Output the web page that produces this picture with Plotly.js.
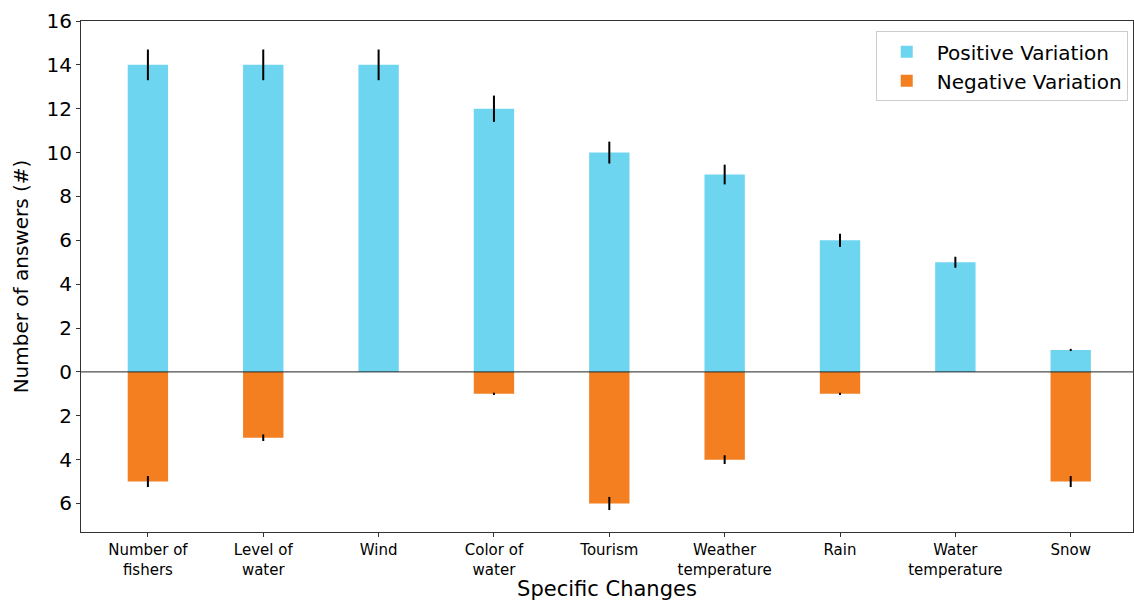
<!DOCTYPE html>
<html>
<head>
<meta charset="utf-8">
<script src="https://cdn.plot.ly/plotly-3.0.1.min.js"></script>
<style>html,body{margin:0;padding:0;background:#fff;}#chart{width:1134px;height:601px;}</style>
</head>
<body>
<div id="chart"></div>
<script>
const categories = ["Number of<br>fishers", "Level of<br>water", "Wind", "Color of<br>water", "Tourism", "Weather<br>temperature", "Rain", "Water<br>temperature", "Snow"];
const positiveValues = [14, 14, 14, 12, 10, 9, 6, 5, 1];
const positiveErrors = [0.7, 0.7, 0.7, 0.6, 0.5, 0.45, 0.3, 0.25, 0.05];
const negativeValues = [5, 3, 0, 1, 6, 4, 1, 0, 5];
const negativeErrors = [0.25, 0.15, 0, 0.05, 0.3, 0.2, 0.05, 0, 0.25];
const yTickValues = [-6, -4, -2, 0, 2, 4, 6, 8, 10, 12, 14, 16];
const yTickLabels = ["6", "4", "2", "0", "2", "4", "6", "8", "10", "12", "14", "16"];

const xIdx = categories.map((_, i) => i);

const traces = [
  {
    type: "bar", name: "Positive Variation", x: xIdx, y: positiveValues, width: 0.35,
    marker: {color: "#6dd5f0", line: {width: 0}},
    error_y: {type: "data", array: positiveErrors, visible: true, color: "#000", thickness: 2, width: 0}
  },
  {
    type: "bar", name: "Negative Variation", x: xIdx, y: negativeValues.map(v => -v), width: 0.35,
    marker: {color: "#f37f21", line: {width: 0}},
    error_y: {type: "data", array: negativeErrors, visible: true, color: "#000", thickness: 2, width: 0}
  }
];

const layout = {
  width: 1134, height: 601,
  margin: {l: 81, r: 1, t: 21, b: 69},
  paper_bgcolor: "#fff", plot_bgcolor: "#fff",
  font: {family: "DejaVu Sans, sans-serif", color: "#000"},
  barmode: "relative",
  showlegend: true,
  legend: {
    x: 0.995, xanchor: "right", y: 0.98, yanchor: "top",
    bordercolor: "#cccccc", borderwidth: 1, bgcolor: "rgba(255,255,255,0.8)",
    font: {size: 20, family: "DejaVu Sans, sans-serif"}, itemwidth: 50,
    tracegroupgap: 0
  },
  xaxis: {
    range: [-0.58, 8.54],
    tickmode: "array", tickvals: xIdx, ticktext: categories,
    tickfont: {size: 15}, ticks: "outside", ticklen: 4, tickcolor: "#333",
    showline: true, linecolor: "#333", linewidth: 1, mirror: true,
    showgrid: false, zeroline: false,
    title: {text: "Specific Changes", font: {size: 21}, standoff: 6}
  },
  yaxis: {
    range: [-7.3, 16],
    tickmode: "array", tickvals: yTickValues, ticktext: yTickLabels,
    tickfont: {size: 20}, ticks: "outside", ticklen: 4, tickcolor: "#333",
    showline: true, linecolor: "#333", linewidth: 1, mirror: true,
    showgrid: false, zeroline: false,
    title: {text: "Number of answers (#)", font: {size: 20}, standoff: 12}
  },
  shapes: [
    {type: "line", xref: "paper", x0: 0, x1: 1, yref: "y", y0: 0, y1: 0, layer: "above", line: {color: "#222", width: 1}}
  ]
};

Plotly.newPlot("chart", traces, layout, {displayModeBar: false, staticPlot: true});
</script>
</body>
</html>
